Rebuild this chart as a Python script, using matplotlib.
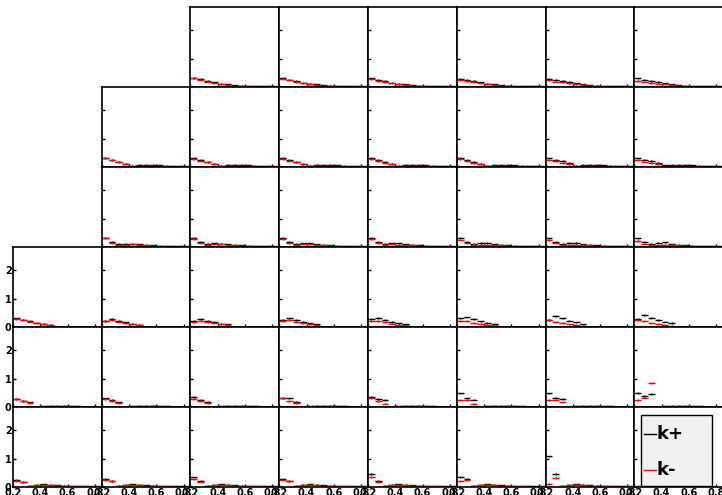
import numpy as np
import matplotlib.pyplot as plt
from matplotlib.patches import Rectangle

# bin edges of every histogram (13 bins of 0.05 from 0.2 to 0.85)
edges = np.round(np.arange(0.2, 0.851, 0.05), 2)

# which columns are filled in each row of the 8x6 grid
row_cols = [range(2, 8), range(1, 8), range(1, 8), range(0, 8), range(0, 8), range(0, 7)]

# --- row 0: first bins per panel + common tail
row0_kp_head = [[0.32, 0.27, 0.21, 0.16, 0.12],
                [0.31, 0.26, 0.20, 0.15, 0.12],
                [0.30, 0.25, 0.20, 0.15, 0.11],
                [0.28, 0.25, 0.20, 0.16, 0.12],
                [0.29, 0.25, 0.21, 0.17, 0.13],
                [0.30, 0.26, 0.21, 0.17, 0.13]]
row0_km_head = [[0.30, 0.24, 0.19, 0.14, 0.10],
                [0.29, 0.23, 0.18, 0.13, 0.10],
                [0.28, 0.22, 0.18, 0.13, 0.10],
                [0.24, 0.21, 0.17, 0.13, 0.10],
                [0.23, 0.19, 0.16, 0.13, 0.10],
                [0.22, 0.19, 0.15, 0.12, 0.09]]
row0_kp_tail = [0.09, 0.07, 0.05, 0.04, 0.03, 0.03, 0.02, 0.02]
row0_km_tail = [0.07, 0.05, 0.04, 0.03, 0.02, 0.02, 0.02, 0.01]

# --- row 1
row1_kp_head = [[0.32, 0.25, 0.19, 0.12, 0.05],
                [0.31, 0.24, 0.18, 0.12, 0.05],
                [0.32, 0.24, 0.18, 0.11, 0.05],
                [0.31, 0.24, 0.18, 0.12, 0.05],
                [0.32, 0.25, 0.19, 0.12, 0.05],
                [0.30, 0.25, 0.20, 0.14, 0.05],
                [0.30, 0.26, 0.21, 0.15, 0.06]]
row1_km_head = [[0.30, 0.23, 0.17, 0.10, 0.04],
                [0.29, 0.22, 0.16, 0.10, 0.04],
                [0.29, 0.21, 0.16, 0.09, 0.04],
                [0.28, 0.21, 0.15, 0.10, 0.04],
                [0.27, 0.21, 0.15, 0.09, 0.04],
                [0.24, 0.20, 0.15, 0.10, 0.04],
                [0.23, 0.19, 0.15, 0.10, 0.04]]
row1_kp_tail = [0.07, 0.08, 0.08, 0.06, 0.05, 0.03, 0.02, 0.02]
row1_km_tail = [0.05, 0.05, 0.05, 0.04, 0.03, 0.02, 0.02, 0.01]

# --- row 2
row2_kp_head = [[0.33, 0.18, 0.10, 0.12, 0.12],
                [0.32, 0.18, 0.10, 0.13, 0.12],
                [0.33, 0.17, 0.10, 0.13, 0.13],
                [0.32, 0.18, 0.11, 0.13, 0.13],
                [0.31, 0.17, 0.11, 0.14, 0.14],
                [0.30, 0.18, 0.12, 0.15, 0.15],
                [0.30, 0.19, 0.12, 0.15, 0.16]]
row2_km_head = [[0.30, 0.15, 0.08, 0.08, 0.09],
                [0.29, 0.15, 0.08, 0.09, 0.09],
                [0.29, 0.14, 0.08, 0.09, 0.09],
                [0.28, 0.14, 0.08, 0.09, 0.08],
                [0.26, 0.13, 0.07, 0.08, 0.08],
                [0.24, 0.13, 0.07, 0.08, 0.08],
                [0.22, 0.12, 0.07, 0.08, 0.08]]
row2_kp_tail = [0.10, 0.08, 0.06, 0.05, 0.04, 0.03, 0.02, 0.02]
row2_km_tail = [0.07, 0.06, 0.05, 0.04, 0.03, 0.02, 0.02, 0.01]

# --- row 3 (6 filled bins up to 0.5)
row3_kp_head = [[0.30, 0.26, 0.20, 0.15, 0.11, 0.08],
                [0.22, 0.27, 0.21, 0.16, 0.12, 0.08],
                [0.22, 0.28, 0.22, 0.17, 0.12, 0.09],
                [0.25, 0.30, 0.25, 0.18, 0.13, 0.09],
                [0.28, 0.32, 0.25, 0.18, 0.13, 0.10],
                [0.30, 0.34, 0.27, 0.20, 0.15, 0.12],
                [0.25, 0.40, 0.30, 0.22, 0.16, 0.10],
                [0.28, 0.42, 0.32, 0.24, 0.18, 0.14]]
row3_km_head = [[0.28, 0.24, 0.19, 0.13, 0.10, 0.07],
                [0.20, 0.24, 0.18, 0.13, 0.10, 0.07],
                [0.18, 0.22, 0.18, 0.13, 0.10, 0.07],
                [0.20, 0.24, 0.18, 0.13, 0.09, 0.06],
                [0.22, 0.20, 0.16, 0.12, 0.08, 0.06],
                [0.22, 0.20, 0.15, 0.11, 0.08, 0.06],
                [0.25, 0.18, 0.13, 0.09, 0.06, 0.04],
                [0.25, 0.20, 0.14, 0.10, 0.07, 0.05]]
row3_kp_tail = [0.01, 0.01, 0.01, 0.01, 0.01, 0.01, 0.01]
row3_km_tail = [0.01, 0.01, 0.01, 0.01, 0.00, 0.00, 0.00]

# --- row 4 (3 filled bins)
row4_kp_head = [[0.28, 0.21, 0.16],
                [0.30, 0.24, 0.16],
                [0.36, 0.25, 0.17],
                [0.32, 0.30, 0.18],
                [0.36, 0.28, 0.24],
                [0.48, 0.30, 0.26],
                [0.48, 0.32, 0.28],
                [0.50, 0.38, 0.45]]
row4_km_head = [[0.27, 0.20, 0.15],
                [0.28, 0.22, 0.15],
                [0.28, 0.22, 0.14],
                [0.30, 0.22, 0.15],
                [0.30, 0.22, 0.12],
                [0.25, 0.25, 0.10],
                [0.25, 0.26, 0.16],
                [0.25, 0.33, 0.85]]
row4_kp_tail = [0.00, 0.03, 0.04, 0.04, 0.04, 0.03, 0.02, 0.01, 0.01, 0.01]
row4_km_tail = [0.00, 0.02, 0.03, 0.03, 0.03, 0.02, 0.02, 0.01, 0.01, 0.00]

# --- row 5 (2 filled bins)
row5_kp_head = [[0.24, 0.17],
                [0.27, 0.22],
                [0.34, 0.20],
                [0.28, 0.22],
                [0.45, 0.20],
                [0.36, 0.28],
                [1.08, 0.45]]
row5_km_head = [[0.22, 0.16],
                [0.25, 0.20],
                [0.27, 0.19],
                [0.26, 0.20],
                [0.36, 0.16],
                [0.20, 0.25],
                [0.10, 0.32]]
row5_kp_tail = [0.03, 0.08, 0.10, 0.08, 0.07, 0.05, 0.04, 0.03, 0.02, 0.02, 0.02]
row5_km_tail = [0.02, 0.06, 0.08, 0.07, 0.05, 0.04, 0.03, 0.02, 0.02, 0.01, 0.01]

# legend pad (row 5, col 7): barely anything visible under the legend
legend_km = [0.03, 0.01, 0.01, 0.01, 0.01, 0.01, 0.01, 0.01, 0.01, 0.01, 0.01, 0.01, 0.01]

# statistical error bars (same for every panel of a row)
err_big = [0.03, 0.03, 0.03, 0.025, 0.02, 0.02, 0.015, 0.015, 0.01, 0.01, 0.01, 0.01, 0.01]

kp_heads = [row0_kp_head, row1_kp_head, row2_kp_head, row3_kp_head, row4_kp_head, row5_kp_head]
km_heads = [row0_km_head, row1_km_head, row2_km_head, row3_km_head, row4_km_head, row5_km_head]
kp_tails = [row0_kp_tail, row1_kp_tail, row2_kp_tail, row3_kp_tail, row4_kp_tail, row5_kp_tail]
km_tails = [row0_km_tail, row1_km_tail, row2_km_tail, row3_km_tail, row4_km_tail, row5_km_tail]

W, H = 722, 495
x0, y0 = 13, 7
pw, ph = 88.75, 80

centers = 0.5 * (edges[:-1] + edges[1:])
half = 0.5 * (edges[1] - edges[0])


def make_pad(fig, r, c):
    ax = fig.add_axes([(x0 + pw * c) / W, (H - y0 - ph * (r + 1)) / H, pw / W, ph / H])
    ax.set_xlim(0.2, 0.85)
    ax.set_ylim(0, 2.82)
    ax.set_xticks([0.2, 0.4, 0.6, 0.8])
    ax.set_yticks([0, 1, 2])
    ax.tick_params(direction='in', length=2, width=1, pad=1,
                   labelsize=7, labelbottom=(r == 5), labelleft=(c == 0))
    for lab in ax.get_xticklabels() + ax.get_yticklabels():
        lab.set_fontweight('bold')
    ax.set_xticklabels(['0.2', '0.4', '0.6', '0.8'])
    for sp in ax.spines.values():
        sp.set_linewidth(1.2)
    return ax


def draw_hist(ax, vals, color):
    ax.errorbar(centers, vals, xerr=half, yerr=err_big, fmt='none',
                ecolor=color, elinewidth=1.0, capsize=0)


fig = plt.figure(figsize=(W / 100, H / 100), dpi=100)

for r, cols in enumerate(row_cols):
    for i, c in enumerate(cols):
        ax = make_pad(fig, r, c)
        kp = kp_heads[r][i] + kp_tails[r]
        km = km_heads[r][i] + km_tails[r]
        draw_hist(ax, kp, 'black')
        draw_hist(ax, km, 'red')

# legend pad
ax = make_pad(fig, 5, 7)
draw_hist(ax, legend_km, 'red')
ax.add_patch(Rectangle((0.08, 0.01), 0.80, 0.89, transform=ax.transAxes,
                       facecolor='#f0f0f0', edgecolor='black', lw=1, zorder=5))
ax.plot([0.11, 0.24], [0.66, 0.66], color='black', lw=1, transform=ax.transAxes, zorder=6)
ax.plot([0.11, 0.24], [0.21, 0.21], color='red', lw=1, transform=ax.transAxes, zorder=6)
ax.text(0.25, 0.66, 'k+', transform=ax.transAxes, fontsize=13, fontweight='bold',
        va='center', ha='left', zorder=6)
ax.text(0.25, 0.21, 'k-', transform=ax.transAxes, fontsize=13, fontweight='bold',
        va='center', ha='left', zorder=6)

fig.savefig('out.png', dpi=100)
